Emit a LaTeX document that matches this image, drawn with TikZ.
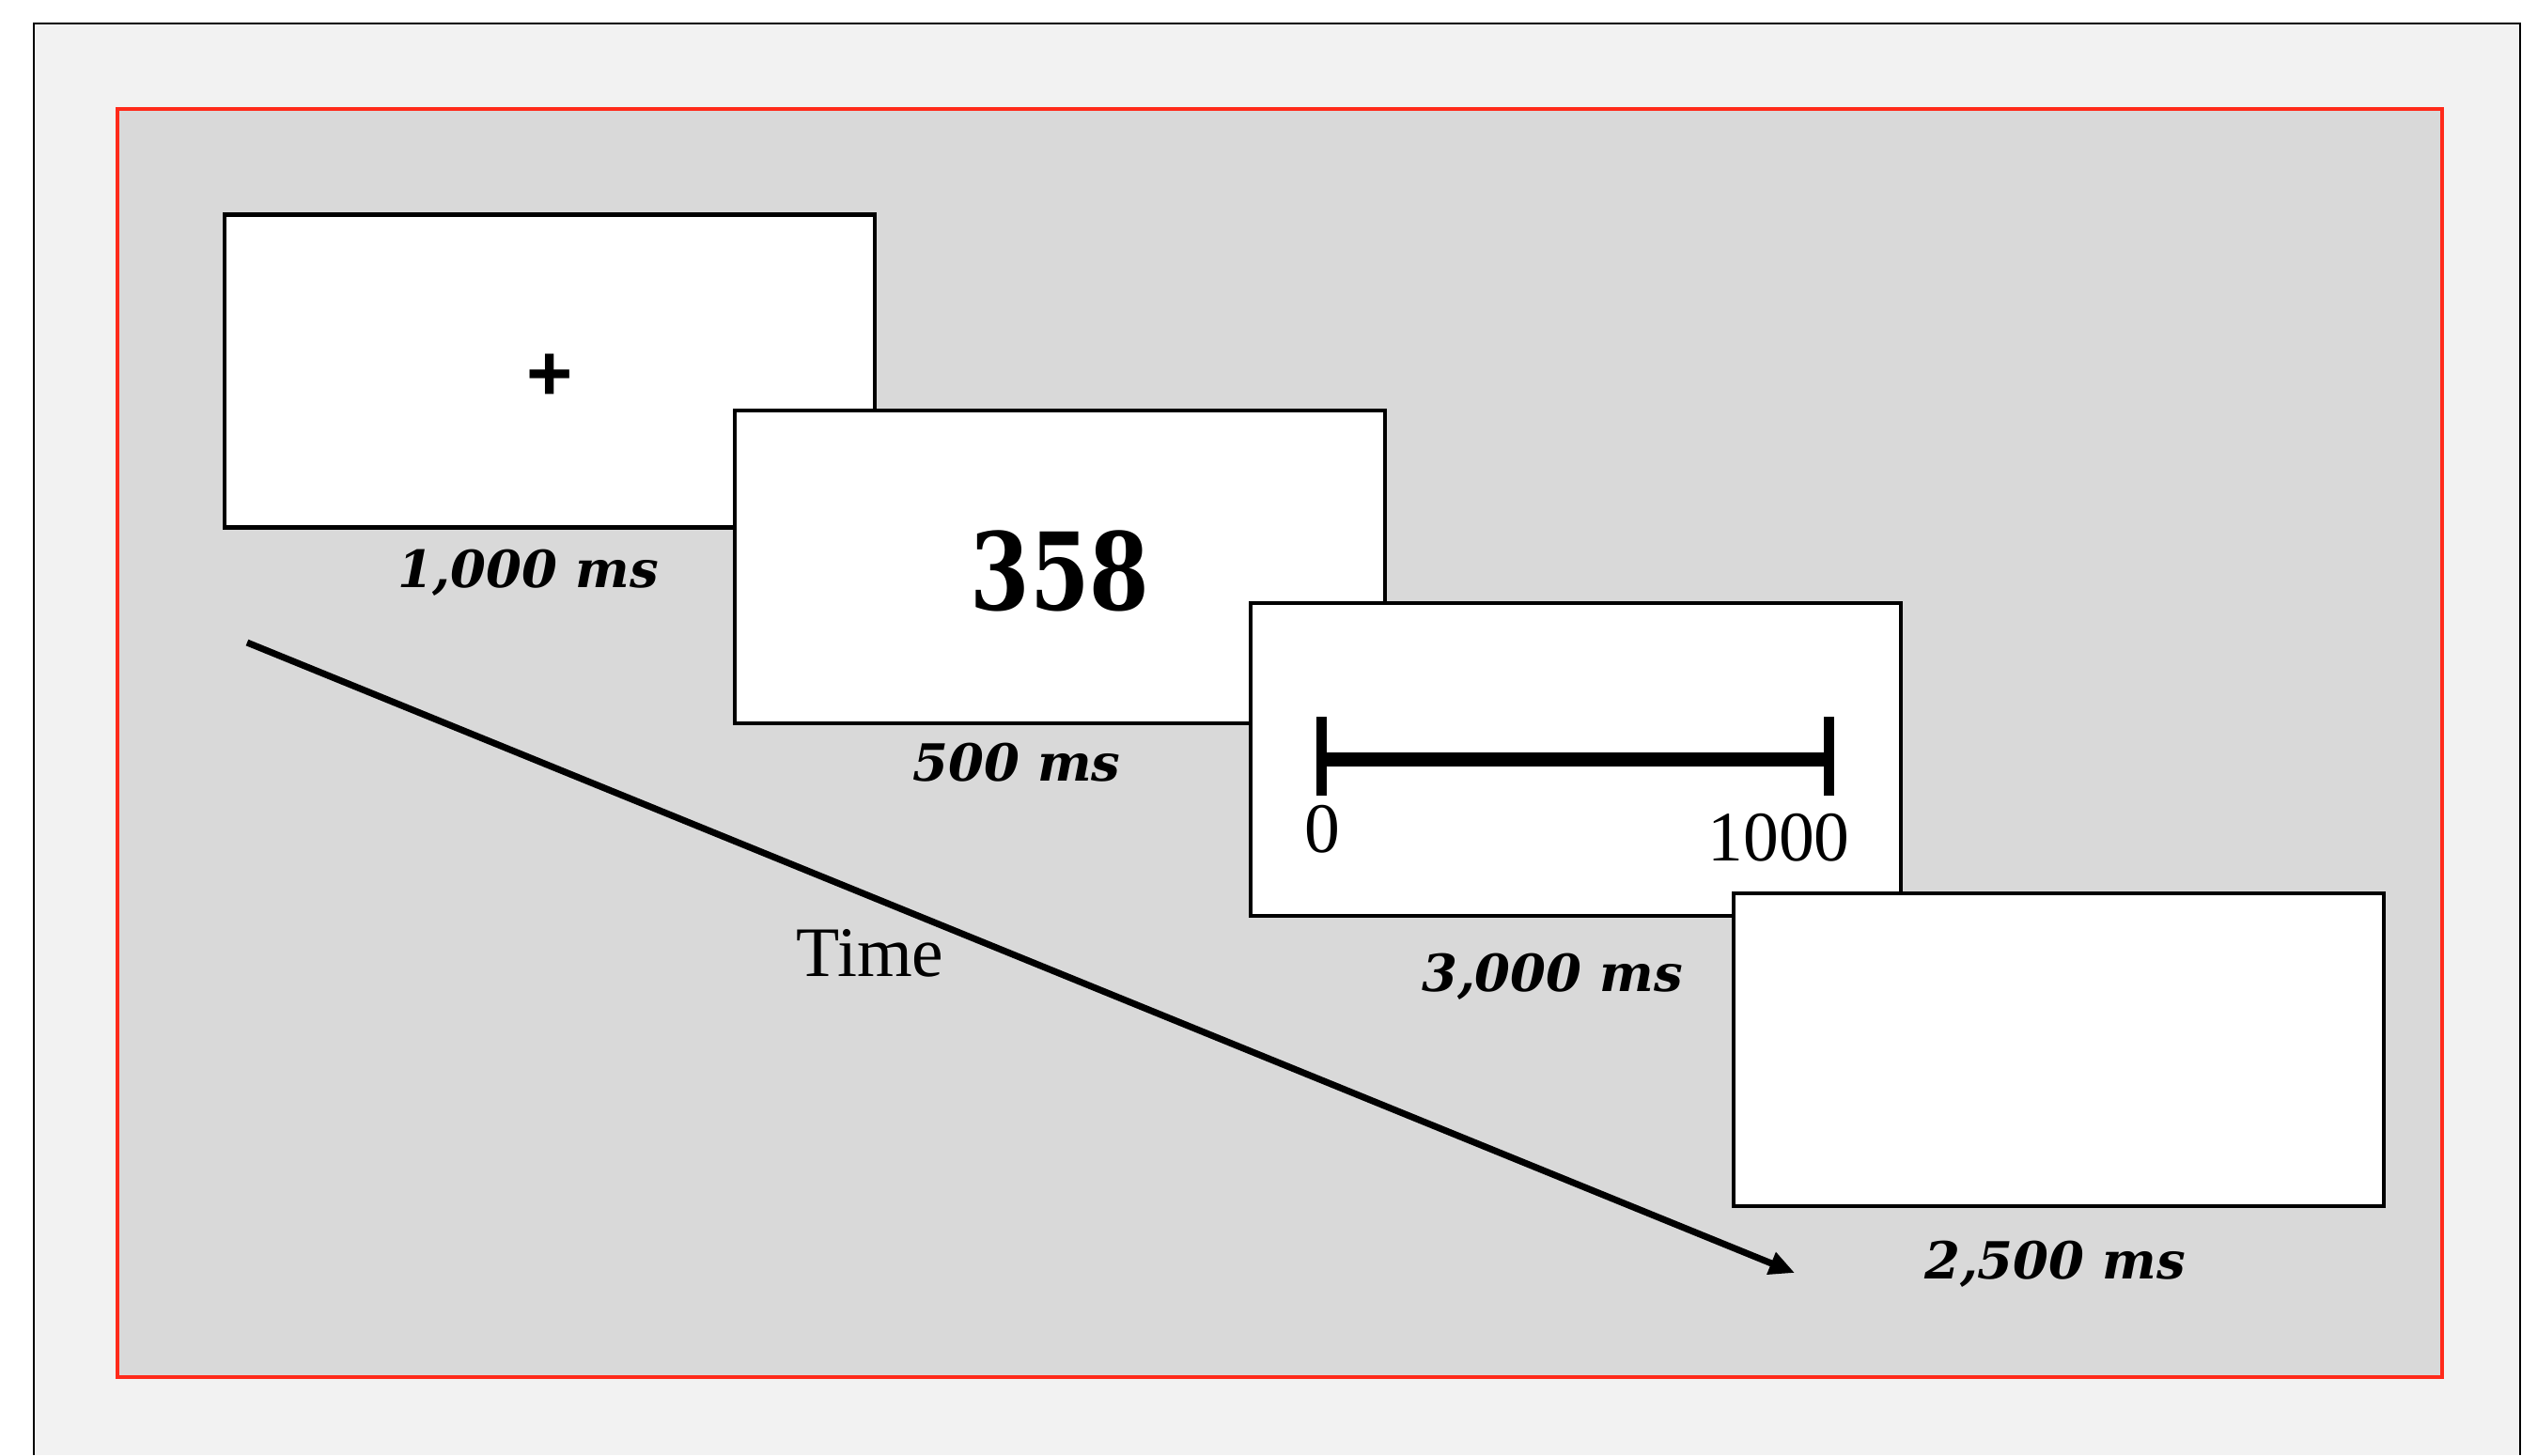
\documentclass[tikz,border=0pt]{standalone}
\usepackage{fontspec}
\setmainfont{Liberation Serif}
\newfontfamily\durfont{DejaVu Serif}
\newfontfamily\numfont[FakeStretch=0.8]{DejaVu Serif}
\newfontfamily\plusfont{Liberation Sans}
\usetikzlibrary{arrows.meta,positioning}
\definecolor{pagegray}{HTML}{F2F2F2}
\definecolor{panelgray}{HTML}{D9D9D9}
\definecolor{framered}{HTML}{FF2A1A}
\tikzset{
  screen/.style={draw,fill=white,line width=1.3pt,minimum width=6.92cm,minimum height=3.33cm,inner sep=0pt},
  dur/.style={anchor=base,font=\durfont\bfseries\itshape\fontsize{15.5}{18}\selectfont},
  axislabel/.style={anchor=base,font=\fontsize{21.5}{24}\selectfont},
}

\begin{document}
\begin{tikzpicture}
\useasboundingbox (0,0) rectangle (27,-15.49);
% page and panel
\fill[pagegray] (0.36,-15.49) rectangle (26.82,-0.25);
\draw[line width=0.8pt] (0.36,-15.49) |- (26.82,-0.25) -- (26.82,-15.49);
\draw[framered,fill=panelgray,line width=0.9pt] (1.25,-1.16) rectangle (25.99,-14.66);

% screens
\node[screen,font=\plusfont\bfseries\fontsize{24}{28}\selectfont] (fix) at (5.85,-3.95) {\raisebox{-0.07cm}[\height][0pt]{+}};
\node[screen,font=\numfont\bfseries\fontsize{32.5}{38}\selectfont] (num) at (11.28,-6.035) {\raisebox{-0.04cm}[\height][0pt]{358}};
\node[screen] (scale) at (16.77,-8.085) {};
\node[screen] (blank) at (21.91,-11.175) {};

% rating line
\coordinate (lo) at (14.06,-8.08);
\coordinate (hi) at (19.46,-8.08);
\draw[line width=0.15cm] (lo) -- (hi);
\draw[line width=0.11cm] (lo) ++(0,0.45) -- ++(0,-0.84);
\draw[line width=0.11cm] (hi) ++(0,0.45) -- ++(0,-0.84);
\node[axislabel] (zero) at (14.07,-9.07) {0};
\node[axislabel] (thousand) at (18.93,-9.16) {1000};

% durations
\node[dur] (d1) at (5.62,-6.25) {1,000 ms};
\node[dur] (d2) at (10.82,-8.31) {500 ms};
\node[dur] (d3) at (16.52,-10.55) {3,000 ms};
\node[dur] (d4) at (21.87,-13.61) {2,500 ms};

% time arrow
\coordinate (tstart) at (2.63,-6.84);
\coordinate (tend) at (19.10,-13.55);
\draw[line width=2pt,-{Triangle[length=0.27cm,width=0.24cm]}] (tstart) -- (tend);
\node[axislabel] (time) at (9.26,-10.39) {Time};
\end{tikzpicture}
\end{document}
